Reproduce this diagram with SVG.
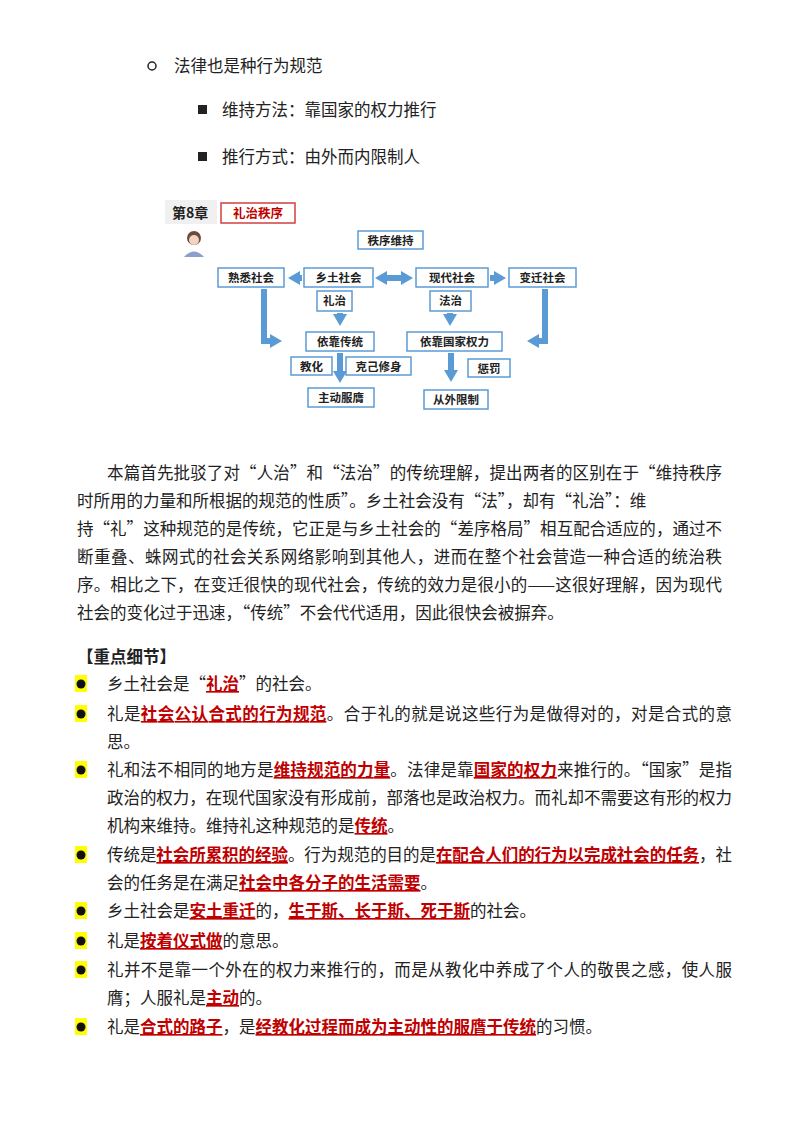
<svg xmlns="http://www.w3.org/2000/svg" width="800" height="1134" viewBox="0 0 800 1134">
<style>
text{font-family:"Noto Sans CJK SC","Liberation Sans",sans-serif;fill:#222}
.b{font-size:16.5px}
.r{fill:#c00000;font-weight:bold;text-decoration:underline}
.nb{fill:#fff;stroke:#5b9bd5;stroke-width:1.5}
.nt{font-size:11.5px;font-weight:bold;text-anchor:middle}
.ar{stroke:#5b9bd5;stroke-width:6;fill:none}
</style>
<defs>
<marker id="ah" markerUnits="userSpaceOnUse" markerWidth="14" markerHeight="14" refX="2" refY="7" orient="auto"><path d="M0,0 L12,7 L0,14 Z" fill="#5b9bd5"/></marker>
<marker id="as" markerUnits="userSpaceOnUse" markerWidth="14" markerHeight="14" refX="10" refY="7" orient="auto"><path d="M12,0 L0,7 L12,14 Z" fill="#5b9bd5"/></marker>
</defs>
<rect width="800" height="1134" fill="#fff"/>
<circle cx="152" cy="66" r="4" fill="none" stroke="#222" stroke-width="1.5"/>
<text class="b" x="174" y="72">法律也是种行为规范</text>
<rect x="198" y="105" width="9" height="9" fill="#222"/>
<text class="b" x="222" y="116">维持方法：靠国家的权力推行</text>
<rect x="198" y="152" width="9" height="9" fill="#222"/>
<text class="b" x="222" y="163">推行方式：由外而内限制人</text>
<g id="header">
<rect x="165" y="200" width="52" height="24" fill="#f0f0f0"/>
<text x="172" y="218" style="font-size:14px;font-weight:bold">第8章</text>
<rect x="221" y="203" width="74" height="20" fill="#fff" stroke="#d04040" stroke-width="1.5"/>
<text x="258" y="218" style="font-size:12.5px;font-weight:bold;fill:#c00000;text-anchor:middle">礼治秩序</text>
<circle cx="194" cy="238" r="7" fill="#6b4a3a"/>
<circle cx="194" cy="240" r="5" fill="#f3d3c0"/>
<path d="M184,257 Q194,246 204,257 Z" fill="#8aa0c8"/>
</g>
<g id="connectors">
<line class="ar" x1="302" y1="278" x2="298" y2="278" marker-end="url(#ah)"/>
<line class="ar" x1="385" y1="278" x2="403" y2="278" marker-start="url(#as)" marker-end="url(#ah)"/>
<line class="ar" x1="490" y1="278" x2="496" y2="278" marker-end="url(#ah)"/>
<polyline class="ar" points="264,289 264,341 272,341" marker-end="url(#ah)"/>
<polyline class="ar" points="545,289 545,341 537,341" marker-end="url(#ah)"/>
<line class="ar" x1="340" y1="313" x2="340" y2="316" marker-end="url(#ah)"/>
<line class="ar" x1="450" y1="313" x2="450" y2="316" marker-end="url(#ah)"/>
<line class="ar" x1="340" y1="353" x2="340" y2="373" marker-end="url(#ah)"/>
<line class="ar" x1="451" y1="353" x2="451" y2="372" marker-end="url(#ah)"/>
</g>
<g id="n1"><rect class="nb" x="358" y="231" width="65" height="18"/><text class="nt" x="390.5" y="245">秩序维持</text></g>
<g id="n2"><rect class="nb" x="218" y="268" width="66" height="19"/><text class="nt" x="251" y="282">熟悉社会</text></g>
<g id="n3"><rect class="nb" x="304" y="268" width="69" height="19"/><text class="nt" x="338.5" y="282">乡土社会</text></g>
<g id="n4"><rect class="nb" x="416" y="268" width="72" height="19"/><text class="nt" x="452" y="282">现代社会</text></g>
<g id="n5"><rect class="nb" x="509" y="268" width="67" height="19"/><text class="nt" x="542.5" y="282">变迁社会</text></g>
<g id="n6"><rect class="nb" x="317" y="291" width="35" height="20"/><text class="nt" x="334.5" y="305">礼治</text></g>
<g id="n7"><rect class="nb" x="430" y="291" width="41" height="20"/><text class="nt" x="450.5" y="305">法治</text></g>
<g id="n8"><rect class="nb" x="306" y="332" width="68" height="19"/><text class="nt" x="340" y="346">依靠传统</text></g>
<g id="n9"><rect class="nb" x="407" y="332" width="95" height="19"/><text class="nt" x="454.5" y="346">依靠国家权力</text></g>
<g id="n10"><rect class="nb" x="291" y="357" width="41" height="18"/><text class="nt" x="311.5" y="371">教化</text></g>
<g id="n11"><rect class="nb" x="346" y="357" width="65" height="18"/><text class="nt" x="378.5" y="371">克己修身</text></g>
<g id="n12"><rect class="nb" x="468" y="359" width="42" height="18"/><text class="nt" x="489" y="373">惩罚</text></g>
<g id="n13"><rect class="nb" x="308" y="388" width="66" height="19"/><text class="nt" x="341" y="402">主动服膺</text></g>
<g id="n14"><rect class="nb" x="424" y="390" width="64" height="19"/><text class="nt" x="456" y="404">从外限制</text></g>
<g class="b">
<text class="b" x="107" y="479" textLength="615">本篇首先批驳了对“人治”和“法治”的传统理解，提出两者的区别在于“维持秩序</text>
<text class="b" x="77" y="507">时所用的力量和所根据的规范的性质”。乡土社会没有“法”，却有“礼治”：维</text>
<text class="b" x="77" y="535" textLength="645">持“礼”这种规范的是传统，它正是与乡土社会的“差序格局”相互配合适应的，通过不</text>
<text class="b" x="77" y="563" textLength="645">断重叠、蛛网式的社会关系网络影响到其他人，进而在整个社会营造一种合适的统治秩</text>
<text class="b" x="77" y="591" textLength="645">序。相比之下，在变迁很快的现代社会，传统的效力是很小的——这很好理解，因为现代</text>
<text class="b" x="77" y="619">社会的变化过于迅速，“传统”不会代代适用，因此很快会被摒弃。</text>
</g>
<text class="b" x="77" y="663" style="font-weight:bold">【重点细节】</text>
<g id="bullets">
<rect x="75" y="675" width="12" height="17" fill="#ffff00"/><circle cx="81" cy="684" r="4.5" fill="#111"/>
<rect x="75" y="705" width="12" height="17" fill="#ffff00"/><circle cx="81" cy="714" r="4.5" fill="#111"/>
<rect x="75" y="761" width="12" height="17" fill="#ffff00"/><circle cx="81" cy="770" r="4.5" fill="#111"/>
<rect x="75" y="846" width="12" height="17" fill="#ffff00"/><circle cx="81" cy="855" r="4.5" fill="#111"/>
<rect x="75" y="902" width="12" height="17" fill="#ffff00"/><circle cx="81" cy="911" r="4.5" fill="#111"/>
<rect x="75" y="932" width="12" height="17" fill="#ffff00"/><circle cx="81" cy="941" r="4.5" fill="#111"/>
<rect x="75" y="961" width="12" height="17" fill="#ffff00"/><circle cx="81" cy="970" r="4.5" fill="#111"/>
<rect x="75" y="1018" width="12" height="17" fill="#ffff00"/><circle cx="81" cy="1027" r="4.5" fill="#111"/>
</g>
<text class="b" x="107" y="690">乡土社会是“<tspan class="r">礼治</tspan>”的社会。</text>
<text class="b" x="107" y="720" textLength="625">礼是<tspan class="r">社会公认合式的行为规范</tspan>。合于礼的就是说这些行为是做得对的，对是合式的意</text>
<text class="b" x="107" y="748">思。</text>
<text class="b" x="107" y="776" textLength="625">礼和法不相同的地方是<tspan class="r">维持规范的力量</tspan>。法律是靠<tspan class="r">国家的权力</tspan>来推行的。“国家”是指</text>
<text class="b" x="107" y="804" textLength="625">政治的权力，在现代国家没有形成前，部落也是政治权力。而礼却不需要这有形的权力</text>
<text class="b" x="107" y="832">机构来维持。维持礼这种规范的是<tspan class="r">传统</tspan>。</text>
<text class="b" x="107" y="861" textLength="625">传统是<tspan class="r">社会所累积的经验</tspan>。行为规范的目的是<tspan class="r">在配合人们的行为以完成社会的任务</tspan>，社</text>
<text class="b" x="107" y="889">会的任务是在满足<tspan class="r">社会中各分子的生活需要</tspan>。</text>
<text class="b" x="107" y="917">乡土社会是<tspan class="r">安土重迁</tspan>的，<tspan class="r">生于斯、长于斯、死于斯</tspan>的社会。</text>
<text class="b" x="107" y="947">礼是<tspan class="r">按着仪式做</tspan>的意思。</text>
<text class="b" x="107" y="976" textLength="625">礼并不是靠一个外在的权力来推行的，而是从教化中养成了个人的敬畏之感，使人服</text>
<text class="b" x="107" y="1004">膺；人服礼是<tspan class="r">主动</tspan>的。</text>
<text class="b" x="107" y="1033">礼是<tspan class="r">合式的路子</tspan>，是<tspan class="r">经教化过程而成为主动性的服膺于传统</tspan>的习惯。</text>
</svg>
